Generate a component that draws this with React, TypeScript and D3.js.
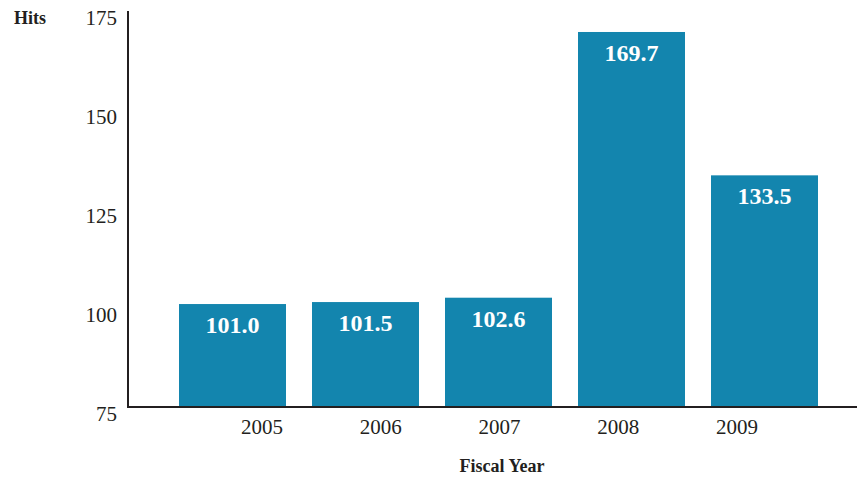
import React from "react";
import * as d3 from "d3";

const years = ["2005", "2006", "2007", "2008", "2009"];
const hits = [101.0, 101.5, 102.6, 169.7, 133.5];
const yTicks = [75, 100, 125, 150, 175];

const W = 857;
const H = 478;
const FONT = "'Liberation Serif', 'DejaVu Serif', serif";
const BAR = "#1385ae";

export default function App() {
  const y = d3.scaleLinear().domain([75, 175]).range([407, 11]);
  const x = d3.scaleBand<string>().domain(years).range([179, 818]).paddingInner(0.1955).paddingOuter(0);
  const xl = d3.scalePoint<string>().domain(years).range([262, 737]);

  return (
    <svg width={W} height={H} style={{ position: "absolute", left: 0, top: 0, fontFamily: FONT }}>
      <rect width={W} height={H} fill="#fff" />
      {years.map((yr, i) => (
        <g key={yr}>
          <rect x={x(yr)} y={y(hits[i])} width={x.bandwidth()} height={y(75) - y(hits[i])} fill={BAR} />
          <text
            x={(x(yr) as number) + x.bandwidth() / 2}
            y={y(hits[i]) + 29}
            textAnchor="middle"
            fill="#fff"
            fontWeight="bold"
            fontSize={24}
          >
            {hits[i].toFixed(1)}
          </text>
          <text x={xl(yr)} y={434} textAnchor="middle" fontSize={21} fill="#231f20">
            {yr}
          </text>
        </g>
      ))}
      <line x1={128} x2={128} y1={y(175)} y2={y(75)} stroke="#231f20" strokeWidth={2} />
      <line x1={127} x2={857} y1={y(75)} y2={y(75)} stroke="#231f20" strokeWidth={2} />
      {yTicks.map((t) => (
        <text key={t} x={117} y={y(t) + 14} textAnchor="end" fontSize={21} fill="#231f20">
          {t}
        </text>
      ))}
      <text x={14} y={24} fontSize={18} fontWeight="bold" fill="#231f20">
        Hits
      </text>
      <text x={502} y={472} textAnchor="middle" fontSize={18} fontWeight="bold" fill="#231f20">
        Fiscal Year
      </text>
    </svg>
  );
}
